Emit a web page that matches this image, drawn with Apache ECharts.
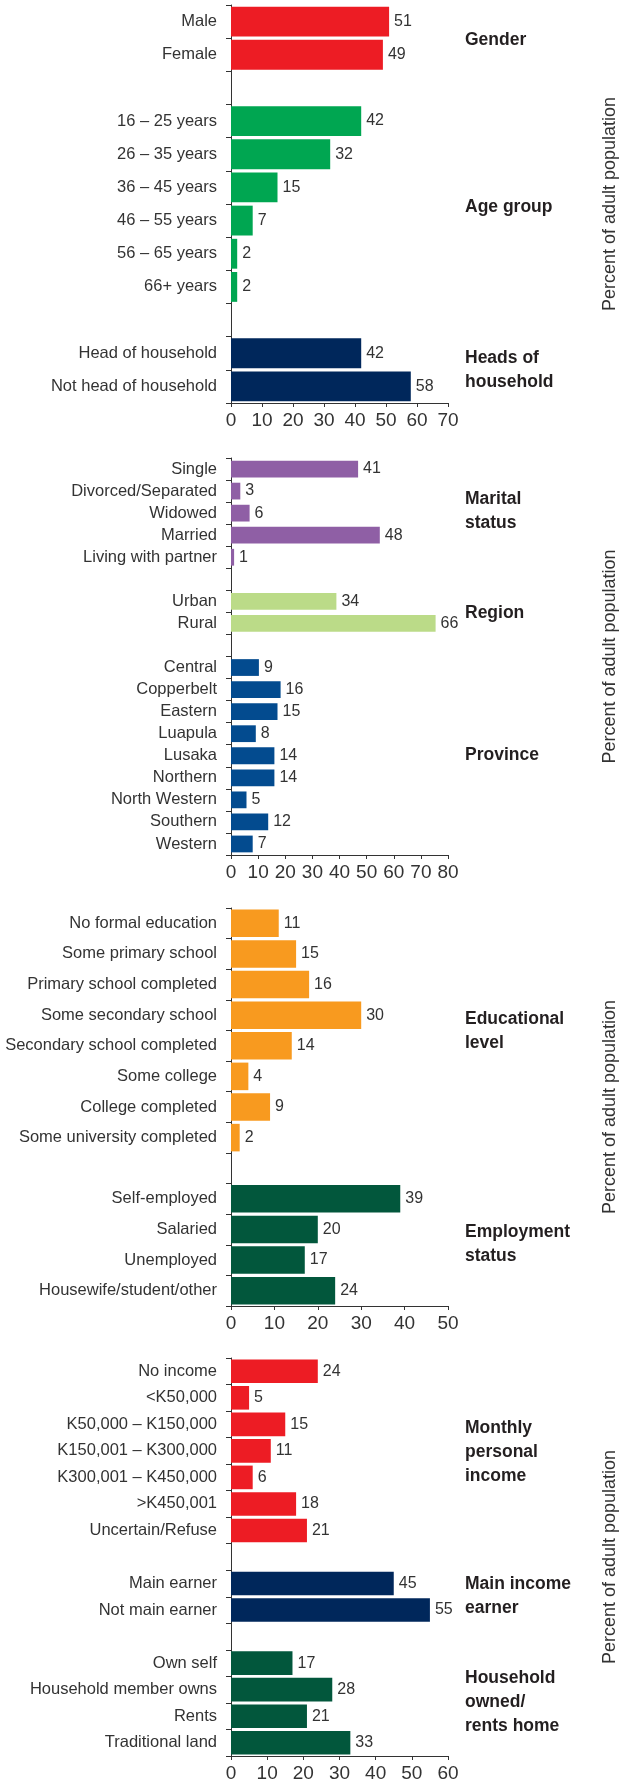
<!DOCTYPE html>
<html>
<head>
<meta charset="utf-8">
<script src="https://cdn.jsdelivr.net/npm/echarts@6/dist/echarts.min.js"></script>
<style>
  html, body { margin: 0; padding: 0; background: #fff; }
  #chart { width: 619px; height: 1782px; }
</style>
</head>
<body>
<div id="chart"></div>
<script>
// ---- data ----
const genderCats = ['Male', 'Female'];
const genderVals = [51, 49];
const ageCats = ['16 – 25 years', '26 – 35 years', '36 – 45 years', '46 – 55 years', '56 – 65 years', '66+ years'];
const ageVals = [42, 32, 15, 7, 2, 2];
const headCats = ['Head of household', 'Not head of household'];
const headVals = [42, 58];

const maritalCats = ['Single', 'Divorced/Separated', 'Widowed', 'Married', 'Living with partner'];
const maritalVals = [41, 3, 6, 48, 1];
const regionCats = ['Urban', 'Rural'];
const regionVals = [34, 66];
const provinceCats = ['Central', 'Copperbelt', 'Eastern', 'Luapula', 'Lusaka', 'Northern', 'North Western', 'Southern', 'Western'];
const provinceVals = [9, 16, 15, 8, 14, 14, 5, 12, 7];

const educationCats = ['No formal education', 'Some primary school', 'Primary school completed', 'Some secondary school',
  'Secondary school completed', 'Some college', 'College completed', 'Some university completed'];
// bar lengths as drawn; printed numbers differ for one bar in the original
const educationVals = [11, 15, 18, 30, 14, 4, 9, 2];
const educationPrinted = [11, 15, 16, 30, 14, 4, 9, 2];
const employmentCats = ['Self-employed', 'Salaried', 'Unemployed', 'Housewife/student/other'];
const employmentVals = [39, 20, 17, 24];

const incomeCats = ['No income', '<K50,000', 'K50,000 – K150,000', 'K150,001 – K300,000', 'K300,001 – K450,000', '>K450,001', 'Uncertain/Refuse'];
const incomeVals = [24, 5, 15, 11, 6, 18, 21];
const earnerCats = ['Main earner', 'Not main earner'];
const earnerVals = [45, 55];
const homeCats = ['Own self', 'Household member owns', 'Rents', 'Traditional land'];
const homeVals = [17, 28, 21, 33];

const axisMax = [70, 80, 50, 60];
const axisTitle = 'Percent of adult population';

// ---- styles ----
const RED = '#ED1C24', GREEN = '#00A651', NAVY = '#00275B', PURPLE = '#8F5FA5',
  LIGHTGREEN = '#BBDB88', BLUE = '#034B8F', ORANGE = '#F89A1F', DARKGREEN = '#02573C';
const SANS = '"Liberation Sans", Arial, sans-serif';
const INK = '#333';

const panels = [
  { top: 5, height: 398, gap: '10%', groups: [
    { cats: genderCats, vals: genderVals, color: RED, title: 'Gender', ty: 40 },
    { cats: ageCats, vals: ageVals, color: GREEN, title: 'Age group', ty: 207 },
    { cats: headCats, vals: headVals, color: NAVY, title: 'Heads of\nhousehold', ty: 370 }
  ]},
  { top: 458, height: 397, gap: '24%', barMax: 70, groups: [
    { cats: maritalCats, vals: maritalVals, color: PURPLE, title: 'Marital\nstatus', ty: 511 },
    { cats: regionCats, vals: regionVals, color: LIGHTGREEN, title: 'Region', ty: 613 },
    { cats: provinceCats, vals: provinceVals, color: BLUE, title: 'Province', ty: 755 }
  ]},
  { top: 908, height: 398, gap: '10%', groups: [
    { cats: educationCats, vals: educationVals, printed: educationPrinted, color: ORANGE, title: 'Educational\nlevel', ty: 1031 },
    { cats: employmentCats, vals: employmentVals, color: DARKGREEN, title: 'Employment\nstatus', ty: 1244 }
  ]},
  { top: 1358, height: 398, gap: '11%', groups: [
    { cats: incomeCats, vals: incomeVals, color: RED, title: 'Monthly\npersonal\nincome', ty: 1452 },
    { cats: earnerCats, vals: earnerVals, color: NAVY, title: 'Main income\nearner', ty: 1596 },
    { cats: homeCats, vals: homeVals, color: DARKGREEN, title: 'Household\nowned/\nrents home', ty: 1702 }
  ]}
];

const grid = [], xAxis = [], yAxis = [], series = [], graphic = [];

panels.forEach((p, i) => {
  const cats = [], data = [];
  p.groups.forEach((g, gi) => {
    if (gi > 0) { cats.push(' '.repeat(gi)); data.push('-'); }
    g.cats.forEach((c, k) => {
      cats.push(c);
      const item = { value: g.vals[k], itemStyle: { color: g.color } };
      if (g.printed) item.label = { formatter: String(g.printed[k]) };
      data.push(item);
    });
    graphic.push({
      type: 'text', x: 465, y: g.ty, silent: true,
      style: {
        text: g.title, fill: '#231f20', font: 'bold 17.5px ' + SANS,
        lineHeight: 24, align: 'left', verticalAlign: 'middle'
      }
    });
  });

  grid.push({ left: 231, width: 217, top: p.top, height: p.height, outerBoundsMode: 'none', containLabel: false });

  xAxis.push({
    type: 'value', gridIndex: i, min: 0, max: axisMax[i], interval: 10,
    axisLine: { show: true, lineStyle: { color: INK, width: 1 } },
    axisTick: { show: true, length: 4, lineStyle: { color: INK } },
    axisLabel: { margin: 8, color: INK, fontSize: 19, fontFamily: SANS },
    splitLine: { show: false }
  });
  let barAxis = xAxis.length - 1;
  if (p.barMax) {
    // bars in this panel are drawn to a 0-70 scale under a 0-80 tick row
    xAxis.push({ type: 'value', gridIndex: i, min: 0, max: p.barMax, show: false });
    barAxis = xAxis.length - 1;
  }

  yAxis.push({
    type: 'category', gridIndex: i, inverse: true, data: cats,
    axisLine: { show: true, lineStyle: { color: INK, width: 1 } },
    axisTick: { show: true, length: 5, lineStyle: { color: INK } },
    axisLabel: { margin: 14, color: INK, fontSize: 16.5, fontFamily: SANS, interval: 0 }
  });

  series.push({
    type: 'bar', xAxisIndex: barAxis, yAxisIndex: i, data: data,
    barCategoryGap: p.gap, silent: true,
    label: { show: true, position: 'right', distance: 5, color: INK, fontSize: 16, fontFamily: SANS }
  });

  graphic.push({
    type: 'text', x: 610, y: p.top + p.height / 2, rotation: Math.PI / 2, silent: true,
    style: {
      text: axisTitle, fill: INK, font: '18px ' + SANS,
      align: 'center', verticalAlign: 'middle'
    }
  });
});

const chart = echarts.init(document.getElementById('chart'), null, { renderer: 'canvas' });
chart.setOption({
  animation: false,
  backgroundColor: '#fff',
  grid: grid,
  xAxis: xAxis,
  yAxis: yAxis,
  series: series,
  graphic: { elements: graphic }
});
</script>
</body>
</html>
